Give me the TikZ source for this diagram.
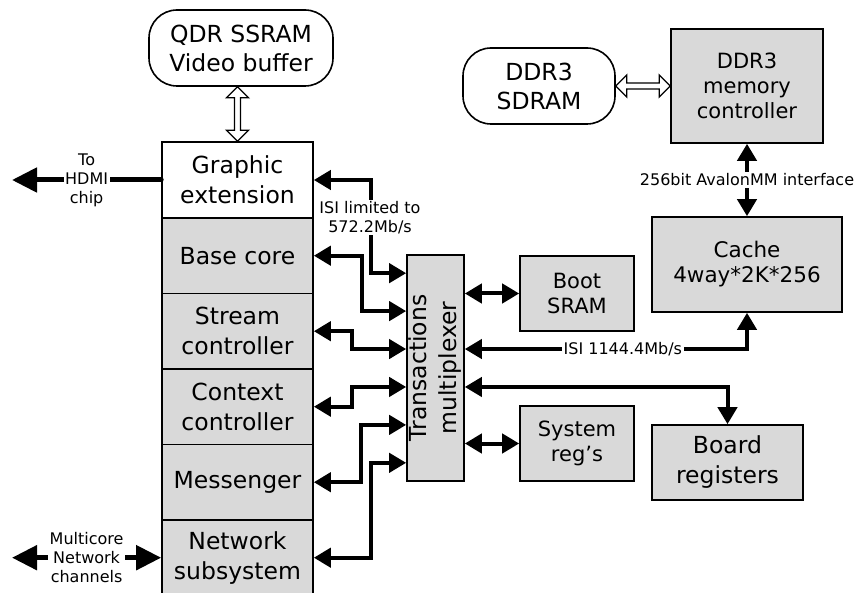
\documentclass[tikz,border=0pt]{standalone}
\usepackage{fontspec}
\setmainfont{DejaVu Sans}
\usetikzlibrary{arrows.meta,calc}
\definecolor{boxgray}{HTML}{D9D9D9}
\begin{document}
\begin{tikzpicture}[x=1pt,y=-1pt,
  blk/.style={draw, line width=1.6pt, fill=boxgray, align=center, inner sep=0pt,
    font=\fontsize{23.5}{30}\selectfont},
  colrow/.style={blk, minimum width=151pt, minimum height=75.5pt},
  memb/.style={draw, line width=1.6pt, fill=white, rounded corners=28pt, align=center,
    inner sep=0pt, font=\fontsize{23.5}{29}\selectfont},
  smallblk/.style={blk, font=\fontsize{21}{25}\selectfont},
  lbl/.style={fill=white, inner sep=1.5pt, align=center, font=\fontsize{16}{19}\selectfont},
  bi/.style={line width=4pt, {Triangle[length=17pt,width=19pt]}-{Triangle[length=17pt,width=19pt]}},
  hollow/.style={draw, line width=1.3pt, fill=white, line join=miter},
  bigone/.style={line width=5pt, -{Triangle[length=25pt,width=24pt]}},
  bigbi/.style={line width=5pt, {Triangle[length=25pt,width=24pt]}-{Triangle[length=25pt,width=24pt]}}
]
\useasboundingbox (0,0) rectangle (854,593);

% left column
\node[blk, fill=white, minimum width=151pt, minimum height=76pt] (ge) at (237.5,180) {Graphic\\extension};
\node[colrow] (base) at (237.5,255.7) {Base core};
\node[colrow] (stream) at (237.5,331.2) {Stream\\controller};
\node[colrow] (context) at (237.5,406.7) {Context\\controller};
\node[colrow] (msg) at (237.5,482.2) {Messenger};
\node[colrow] (net) at (237.5,557.7) {Network\\subsystem};

% memories and blocks
\node[memb, minimum width=184pt, minimum height=76pt] (qdr) at (241,48) {QDR SSRAM\\Video buffer};
\node[memb, minimum width=152pt, minimum height=76pt] (sdram) at (539,86) {DDR3\\SDRAM};
\node[smallblk, minimum width=152pt, minimum height=114pt] (ctrl) at (747,86) {DDR3\\memory\\controller};
\node[blk, font=\fontsize{21.5}{25}\selectfont, minimum width=190pt, minimum height=95pt] (cache) at (747,264.5) {Cache\\4way*2K*256};
\node[blk, minimum width=57pt, minimum height=226pt] (mux) at (435.5,368) {};
\node[rotate=90, align=center, inner sep=0pt, font=\fontsize{23.5}{30}\selectfont] (muxlbl) at (mux.center) {Transactions\\multiplexer};
\node[smallblk, minimum width=114pt, minimum height=75pt] (boot) at (577,293.5) {Boot\\SRAM};
\node[smallblk, minimum width=114pt, minimum height=75pt] (sysreg) at (577,443.5) {System\\reg’s};
\node[blk, minimum width=151pt, minimum height=75pt] (board) at (727.5,462.5) {Board\\registers};

% mux ports
\coordinate (L1) at ($(mux.north west)!0.08333!(mux.south west)$);
\coordinate (L2) at ($(mux.north west)!0.25!(mux.south west)$);
\coordinate (L3) at ($(mux.north west)!0.41667!(mux.south west)$);
\coordinate (L4) at ($(mux.north west)!0.58333!(mux.south west)$);
\coordinate (L5) at ($(mux.north west)!0.75!(mux.south west)$);
\coordinate (L6) at ($(mux.north west)!0.91667!(mux.south west)$);
\coordinate (R2) at ($(mux.north east)!0.41667!(mux.south east)$);
\coordinate (R3) at ($(mux.north east)!0.58333!(mux.south east)$);

% left connectors
\draw[bi] (ge.east) -- ++(57,0) |- (L1);
\draw[bi] (base.east) -- ++(48,0) |- (L2);
\draw[bi] (stream.east) -- ++(38,0) |- (L3);
\draw[bi] (context.east) -- ++(38,0) |- (L4);
\draw[bi] (msg.east) -- ++(47,0) |- (L5);
\draw[bi] (net.east) -- ++(57,0) |- (L6);
\node[lbl] (isilim) at (370,217.5) {ISI limited to\\572.2Mb/s};

% right connectors
\draw[bi] (mux.east |- boot.west) -- (boot.west);
\draw[bi] (mux.east |- sysreg.west) -- (sysreg.west);
\draw[bi] (R2) -- node[lbl, pos=0.56] (isifast) {ISI 1144.4Mb/s} (R2 -| cache.south) -- (cache.south);
\draw[bi] (R3) -| (board.north);
\draw[bi] (ctrl.south) -- node[lbl] (avalon) {256bit AvalonMM interface} (cache.north);

% external links
\coordinate (hdmi) at (12,180);
\draw[bigone, line cap=round] (ge.west) -- node[lbl] (hdmilbl) {To\\HDMI\\chip} (hdmi);
\coordinate (mc) at (12,557.7);
\draw[bigbi] (mc) -- node[lbl] (mclbl) {Multicore\\Network\\channels} (net.west);

% hollow double arrows
\draw[hollow] let \p1=(qdr.south -| ge.north), \p2=(ge.north) in
  (\x1,\y1) -- (\x1+11pt,\y1-11pt) -- (\x1+3pt,\y1-11pt) -- (\x1+3pt,\y2+11pt)
  -- (\x1+11pt,\y2+11pt) -- (\x1,\y2) -- (\x1-11pt,\y2+11pt) -- (\x1-3pt,\y2+11pt)
  -- (\x1-3pt,\y1-11pt) -- (\x1-11pt,\y1-11pt) -- cycle;
\draw[hollow] let \p1=(sdram.east), \p2=(ctrl.west |- sdram.east) in
  (\x1,\y1) -- (\x1+11pt,\y1+11pt) -- (\x1+11pt,\y1+3pt) -- (\x2-11pt,\y1+3pt)
  -- (\x2-11pt,\y1+11pt) -- (\x2,\y1) -- (\x2-11pt,\y1-11pt) -- (\x2-11pt,\y1-3pt)
  -- (\x1+11pt,\y1-3pt) -- (\x1+11pt,\y1-11pt) -- cycle;
\end{tikzpicture}
\end{document}
